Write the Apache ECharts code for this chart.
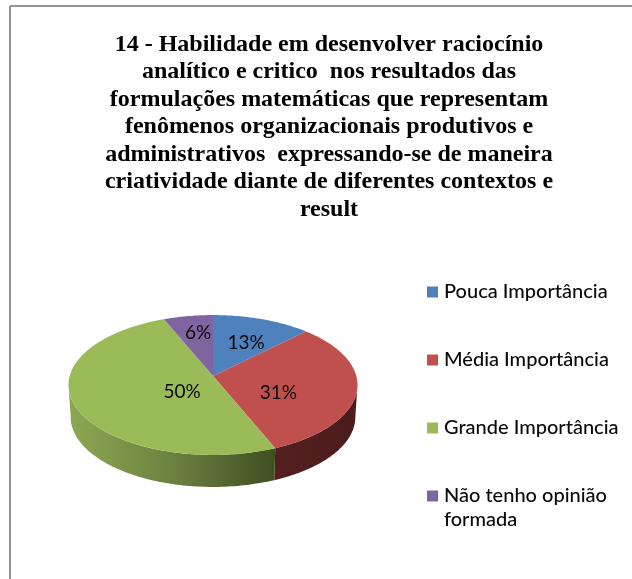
<!DOCTYPE html>
<html>
<head>
<meta charset="utf-8">
<style>html,body{margin:0;padding:0;background:#fff}#c{width:632px;height:579px;filter:blur(0.4px)}</style>
<script src="https://cdn.jsdelivr.net/npm/echarts@6/dist/echarts.min.js"></script>
</head>
<body>
<div id="c"></div>
<script>
const titleLines = [
  '14 - Habilidade em desenvolver raciocínio',
  'analítico e critico  nos resultados das',
  'formulações matemáticas que representam',
  'fenômenos organizacionais produtivos e',
  'administrativos  expressando-se de maneira',
  'criatividade diante de diferentes contextos e',
  'result'
];
const categories = ['Pouca Importância', 'Média Importância', 'Grande Importância', 'Não tenho opinião formada'];
const values = [12.5, 31.25, 50, 6.25];
const colors = ['#4f81bd', '#c0504d', '#9bbb59', '#8064a2'];

/* 3D projection of the disc (style only) */
const APEX = {x: 213, y: 376}, SX = 143.3, SY = 68.8, PERSP = 0.1286, DEPTH = 32, BOTTOM_SCALE = 0.985;
const LABEL_R = [0.65, 0.46, 0.23, 0.57], LABEL_DY = [5, 11, 10, -7];
const sideFill = [
  null,
  [[0, '#551f1e'], [1, '#4a1c1c']],
  [[0, '#8da852'], [0.5, '#6c8240'], [1, '#3f4e22']],
  null
];

function project(a, r, bottom) {
  const k = 1 + PERSP * r * Math.cos(a), s = bottom ? BOTTOM_SCALE : 1;
  return [APEX.x + SX * s * r * Math.sin(a) / k,
          APEX.y - SY * r * Math.cos(a) / k + (bottom ? DEPTH : 0)];
}
function arc(a0, a1, bottom) {
  const pts = [], n = Math.max(2, Math.ceil((a1 - a0) / 0.02));
  for (let i = 0; i <= n; i++) pts.push(project(a0 + (a1 - a0) * i / n, 1, bottom));
  return pts;
}
const total = values.reduce((s, v) => s + v, 0);
const FRONT0 = Math.acos(-PERSP), FRONT1 = 2 * Math.PI - FRONT0;

function sliceRenderer(idx) {
  return function () {
    const before = values.slice(0, idx).reduce((s, v) => s + v, 0);
    const a0 = before / total * 2 * Math.PI, a1 = (before + values[idx]) / total * 2 * Math.PI;
    const children = [];
    const s0 = Math.max(a0, FRONT0), s1 = Math.min(a1, FRONT1);
    if (s1 > s0 && sideFill[idx]) {
      children.push({
        type: 'polygon',
        shape: {points: arc(s0, s1, false).concat(arc(s0, s1, true).reverse())},
        style: {fill: new echarts.graphic.LinearGradient(0, 0, 1, 0,
          sideFill[idx].map(c => ({offset: c[0], color: c[1]})))}
      });
    }
    children.push({
      type: 'polygon',
      shape: {points: [project(0, 0, false)].concat(arc(a0, a1, false))},
      style: {fill: colors[idx]}
    });
    const mid = (a0 + a1) / 2, p = project(mid, LABEL_R[idx], false);
    children.push({
      type: 'text',
      x: p[0], y: p[1] + LABEL_DY[idx],
      style: {
        text: Math.round(values[idx]) + '%',
        align: 'center', verticalAlign: 'middle',
        font: '19px Lato', fill: '#0a0a0a'
      },
      z2: 10
    });
    return {type: 'group', children};
  };
}

const chart = echarts.init(document.getElementById('c'), null, {renderer: 'canvas'});
chart.setOption({
  animation: false,
  backgroundColor: '#ffffff',
  title: {
    text: titleLines.join('\n'),
    left: 324, top: 26, textAlign: 'center',
    textStyle: {fontFamily: 'Liberation Serif', fontWeight: 'bold', fontSize: 24, lineHeight: 27.5, color: '#000'}
  },
  legend: {
    orient: 'vertical', left: 427, top: 281,
    icon: 'rect', itemWidth: 11, itemHeight: 11, itemGap: 46, padding: 0,
    data: categories,
    selectedMode: false,
    formatter: n => n === categories[3] ? 'Não tenho opinião' : n,
    textStyle: {fontFamily: 'Lato', fontSize: 20, fontWeight: 500, color: '#0a0a0a', padding: [0, 0, 0, 1], lineHeight: 22}
  },
  graphic: [
    {type: 'line', shape: {x1: 10, y1: 6, x2: 10, y2: 579}, style: {stroke: '#949494', lineWidth: 2}},
    {type: 'line', shape: {x1: 10, y1: 6, x2: 632, y2: 6}, style: {stroke: '#949494', lineWidth: 2}},
    {type: 'text', x: 444, y: 520, style: {text: 'formada', font: '500 20px Lato', fill: '#0a0a0a', verticalAlign: 'middle'}}
  ],
  series: categories.map((name, i) => ({
    type: 'custom',
    name,
    coordinateSystem: 'none',
    itemStyle: {color: colors[i]},
    renderItem: sliceRenderer(i),
    data: [[values[i]]],
    silent: true
  }))
});
</script>
</body>
</html>
